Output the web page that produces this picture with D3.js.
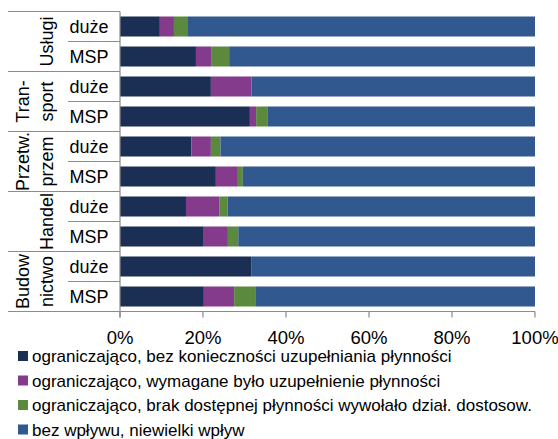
<!DOCTYPE html>
<html><head><meta charset="utf-8">
<script src="https://cdn.jsdelivr.net/npm/d3@7"></script>
<style>body{margin:0;background:#fff}svg{display:block}text{font-family:"Liberation Sans",Arial,sans-serif;fill:#000}</style>
</head><body><svg id="c" width="558" height="439"></svg>
<script>
const groups = [["Usługi"], ["Tran-", "sport"], ["Przetw.", "przem"], ["Handel"], ["Budow", "nictwo"]];
const subgroups = ["duże", "MSP"];
const seriesNames = [
  "ograniczająco, bez konieczności uzupełniania płynności",
  "ograniczająco, wymagane było uzupełnienie płynności",
  "ograniczająco, brak dostępnej płynności wywołało dział. dostosow.",
  "bez wpływu, niewielki wpływ"
];
const colors = ["#1b2f55", "#853b8b", "#5b8a3e", "#31598f"];
// rows: Usługi duże, Usługi MSP, Transport duże, Transport MSP, Przetw. duże, Przetw. MSP, Handel duże, Handel MSP, Budownictwo duże, Budownictwo MSP
const s1 = [9.6, 18.3, 21.9, 31.3, 17.2, 23.1, 15.9, 20.0, 31.6, 20.2];
const s2 = [3.4, 3.8, 9.8, 1.5, 4.7, 5.3, 8.0, 6.0, 0.0, 7.3];
const s3 = [3.2, 4.2, 0.0, 2.7, 2.3, 1.2, 2.0, 2.5, 0.0, 5.1];
const s4 = s1.map((v,i)=>+(100 - v - s2[i] - s3[i]).toFixed(1));
const tickLabels = ["0%", "20%", "40%", "60%", "80%", "100%"];

const svg = d3.select("#c");
const L = 120, R = 535, T = 11.5, B = 311.5;
const rowIds = d3.range(10);
const x = d3.scaleLinear().domain([0, 100]).range([L, R]);
const y = d3.scaleBand().domain(rowIds).range([T, B]).paddingInner(1/3).paddingOuter(1/6);

const data = rowIds.map(i => ({i, v:[s1[i], s2[i], s3[i], s4[i]]}));
const stack = d3.stack().keys([0,1,2,3]).value((d,k)=>d.v[k]);
const layers = stack(data);

svg.append("g").selectAll("g").data(layers).join("g")
  .attr("fill", (d,k)=>colors[k])
  .selectAll("rect").data(d=>d).join("rect")
  .attr("x", d=>x(d[0])).attr("width", d=>Math.max(0, x(d[1])-x(d[0])))
  .attr("y", d=>y(d.data.i)).attr("height", y.bandwidth());

// x axis
const ax = svg.append("g").attr("transform", `translate(0,${B})`);
ax.append("line").attr("x1", 8).attr("x2", R).attr("stroke", "#8c8c8c").attr("stroke-width", 1.2);
ax.selectAll("line.t").data(d3.range(0,101,20)).join("line").attr("class","t")
  .attr("x1", d=>x(d)).attr("x2", d=>x(d)).attr("y1", 0).attr("y2", 6)
  .attr("stroke", "#8c8c8c").attr("stroke-width", 1.2);
ax.selectAll("text").data(tickLabels).join("text")
  .attr("x", (d,i)=>x(i*20)).attr("y", 32.5).attr("text-anchor","middle")
  .attr("font-size", 18.5).text(d=>d);

// vertical axis line
svg.append("line").attr("x1", L).attr("x2", L).attr("y1", T).attr("y2", B+6)
  .attr("stroke", "#8c8c8c").attr("stroke-width", 1.2);

// label grid lines
const step = y.step();
const lab = svg.append("g");
groups.forEach((g, gi) => {
  const top = T + gi*2*step;
  lab.append("line").attr("x1", 8).attr("x2", L).attr("y1", top).attr("y2", top)
    .attr("stroke", "#8c8c8c").attr("stroke-width", 1.2);
  lab.append("line").attr("x1", 68).attr("x2", L).attr("y1", top+step).attr("y2", top+step)
    .attr("stroke", "#8c8c8c").attr("stroke-width", 1.2);
  const cy = top + step;
  const xs = g.length === 2 ? [22, 46] : [46];
  g.forEach((t, k) => {
    lab.append("text").attr("transform", `translate(${xs[k]+6.5},${cy}) rotate(-90)`)
      .attr("text-anchor","middle").attr("font-size", 18).text(t);
  });
  subgroups.forEach((s, si) => {
    lab.append("text").attr("x", 89).attr("y", top + si*step + step/2 + 6.5)
      .attr("text-anchor","middle").attr("font-size", 18).text(s);
  });
});

// legend
const lg = svg.append("g");
seriesNames.forEach((n, k) => {
  const yy = 356 + k*24.5;
  lg.append("rect").attr("x", 18).attr("y", yy-5).attr("width", 10).attr("height", 10).attr("fill", colors[k]);
  lg.append("text").attr("x", 32).attr("y", yy+6).attr("font-size", 17).text(n);
});
</script></body></html>
